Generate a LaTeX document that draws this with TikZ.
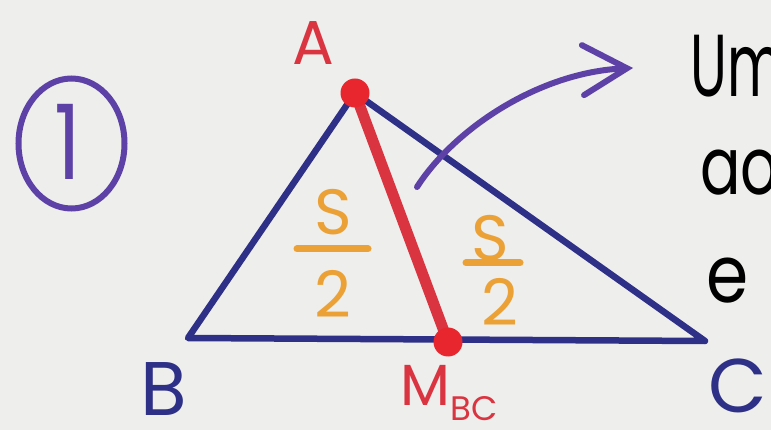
\documentclass[tikz,border=0pt]{standalone}
\usepackage{fontspec}
\setmainfont{Poppins}
\usetikzlibrary{arrows.meta}
\definecolor{bg}{HTML}{EEEEEC}
\definecolor{navy}{HTML}{2E3088}
\definecolor{redm}{HTML}{DB3441}
\definecolor{reddot}{HTML}{E8262E}
\definecolor{orng}{HTML}{EBA136}
\definecolor{purp}{HTML}{5E41A6}
\tikzset{
  edge/.style={navy, line width=6.5, line cap=round, line join=round},
  median/.style={redm, line width=11, line cap=round},
  dotpt/.style={circle, fill=reddot, inner sep=0pt, minimum size=29pt},
  vlab/.style={font=\fontsize{76}{78}\selectfont, inner sep=0pt},
  frac/.style={orng, font=\fontsize{64}{66}\selectfont, inner sep=0pt},
  fbar/.style={orng, line width=7, line cap=round},
  note/.style={font=\fontsize{80}{90}\selectfont, inner sep=0pt, anchor=base west}
}
\begin{document}
\begin{tikzpicture}[x=1pt,y=-1pt]
\useasboundingbox (0,0) rectangle (771,430);
\fill[bg] (0,0) rectangle (771,430);
\clip (0,0) rectangle (771,430);

% circled number
\draw[purp, line width=6] (71.5,143.5) ellipse [x radius=53, y radius=65];
\node[purp, font=\fontsize{104}{106}\selectfont, inner sep=0pt] (one) at (68,142) {\scalebox{0.8}[1]{1}};

% triangle vertices
\coordinate (A) at (355,93);
\coordinate (B) at (188,338);
\coordinate (C) at (705,341);
\coordinate (M) at (448,342);

\draw[edge] (A) -- (B) -- (C) -- cycle;

% fractions
\node[frac] (s1) at (333,212) {S};
\coordinate (b1l) at (297,249);
\coordinate (b1r) at (368,249);
\draw[fbar] (b1l) -- (b1r);
\node[frac] (t1) at (333,294) {2};

\node[frac] (s2) at (490,238) {S};
\coordinate (b2l) at (466,263);
\coordinate (b2r) at (520,263);
\draw[fbar] (b2l) -- (b2r);
\node[frac] (t2) at (500,302) {2};

% median
\draw[median] (A) -- (M);
\node[dotpt] (Adot) at (A) {};
\node[dotpt] (Mdot) at (M) {};

% arrow
\coordinate (arS) at (417,187);
\coordinate (arE) at (633,68);
\draw[purp, line width=6, line cap=round, -{Straight Barb[length=44pt,width=50pt,line cap=round]}]
  (arS) .. controls (455,128) and (540,72) .. (arE);

% labels
\node[vlab, redm, font=\fontsize{62}{64}\selectfont] (LA) at (313,43) {A};
\node[vlab, navy] (LB) at (164,389) {B};
\node[vlab, navy] (LC) at (738,386) {C};
\node[redm, inner sep=0pt, font=\fontsize{58}{60}\selectfont] (LM) at (449,393)
  {M\raisebox{-0.26em}{\fontsize{34}{36}\selectfont BC}};

% text at right
\node[note, font=\fontsize{88}{90}\selectfont] (t1l) at (690,97) {\scalebox{0.62}[1]{Um}};
\node[note] (t2l) at (700,195) {\scalebox{0.75}[1]{ao}};
\node[note] (t3l) at (706,303) {\scalebox{0.85}[1]{e}};
\end{tikzpicture}
\end{document}
